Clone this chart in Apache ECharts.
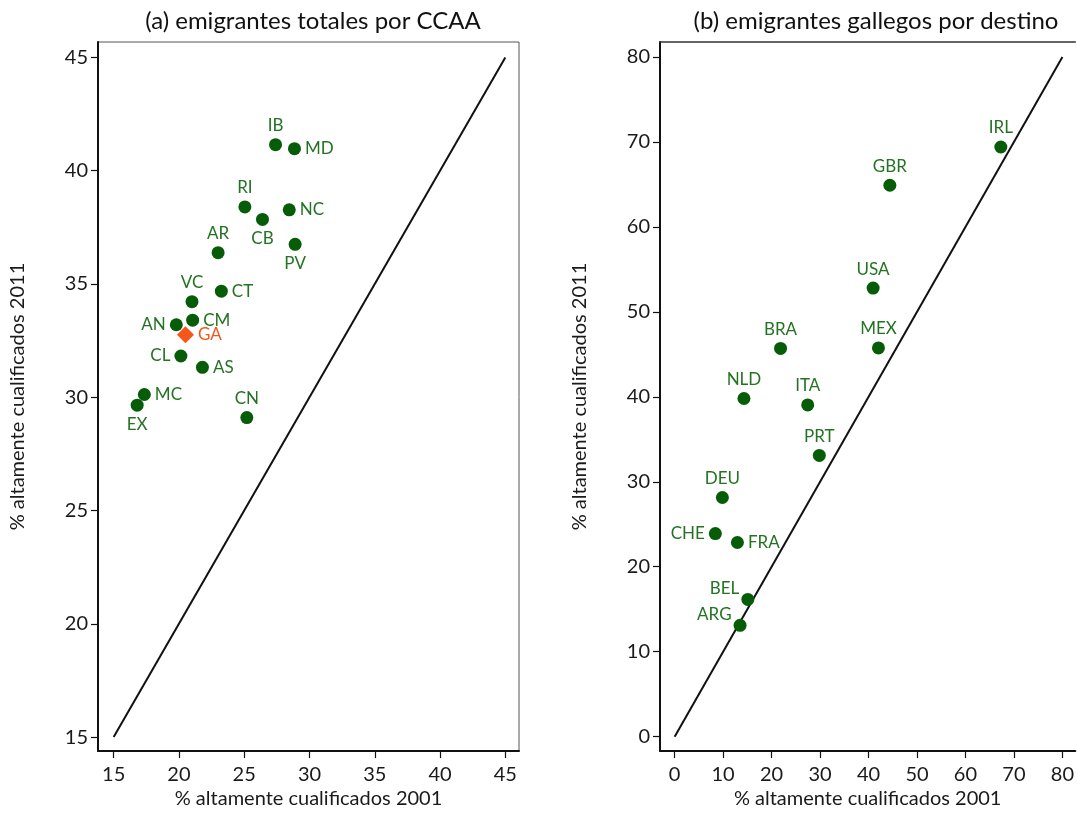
<!DOCTYPE html>
<html>
<head>
<meta charset="utf-8">
<script src="https://cdn.jsdelivr.net/npm/echarts@6/dist/echarts.min.js"></script>
<style>
html,body{margin:0;padding:0;background:#fff;}
#chart{width:1077px;height:814px;}
</style>
</head>
<body>
<div id="chart"></div>
<script>
// ---- Data: panel (a) emigrantes totales por CCAA ----
const ccaaCodes = ['IB','MD','RI','CB','NC','AR','PV','CT','VC','CM','AN','GA','CL','AS','MC','EX','CN'];
const ccaa2001  = [27.4, 28.85, 25.05, 26.4, 28.45, 23.0, 28.9, 23.25, 21.0, 21.05, 19.8, 20.5, 20.15, 21.8, 17.35, 16.8, 25.2];
const ccaa2011  = [41.15, 40.97, 38.4, 37.85, 38.27, 36.38, 36.75, 34.68, 34.22, 33.4, 33.2, 32.76, 31.82, 31.32, 30.12, 29.65, 29.1];
const highlight = 'GA';
const ticksA = [15, 20, 25, 30, 35, 40, 45];
const diagA = [15, 45];

// ---- Data: panel (b) emigrantes gallegos por destino ----
const destCodes = ['IRL','GBR','USA','BRA','MEX','NLD','ITA','PRT','DEU','CHE','FRA','BEL','ARG'];
const dest2001  = [67.3, 44.4, 40.95, 21.85, 42.05, 14.3, 27.45, 29.85, 9.85, 8.4, 12.95, 15.1, 13.5];
const dest2011  = [69.4, 64.9, 52.8, 45.7, 45.75, 39.8, 39.05, 33.1, 28.15, 23.9, 22.85, 16.15, 13.1];
const ticksB = [0, 10, 20, 30, 40, 50, 60, 70, 80];
const diagB = [0, 80];

const titleA = '(a) emigrantes totales por CCAA';
const titleB = '(b) emigrantes gallegos por destino';
const xName = '% altamente cualificados 2001';
const yName = '% altamente cualificados 2011';

// ---- Style: label placement per code ----
const labelPlace = {
  IB:'top', MD:'right', RI:'top', CB:'bottom', NC:'right', AR:'top', PV:'bottom', CT:'right',
  VC:'top', CM:'right', AN:'left', GA:'right', CL:'left', AS:'right', MC:'right', EX:'bottom', CN:'top',
  IRL:'top', GBR:'top', USA:'top', BRA:'top', MEX:'top', NLD:'top', ITA:'top', PRT:'top', DEU:'top',
  CHE:'left', FRA:'right', BEL:'lefttop', ARG:'lefttop'
};

const FONT = 'Lato, "Open Sans", sans-serif';
const GREEN = '#075c07';
const LGREEN = '#237323';
const ORANGE = '#f5561a';

function labelCfg(code, color) {
  const p = labelPlace[code] || 'top';
  const base = {show: true, formatter: code, color: color, fontSize: 17, fontFamily: FONT, distance: 4};
  if (p === 'lefttop') return Object.assign(base, {position: 'left', offset: [0, -11], distance: 2});
  return Object.assign(base, {position: p});
}

function pts(codes, xs, ys, keep) {
  const out = [];
  codes.forEach((c, i) => {
    if (!keep(c)) return;
    out.push({value: [xs[i], ys[i]], name: c, label: labelCfg(c, c === highlight ? ORANGE : LGREEN)});
  });
  return out;
}

const chart = echarts.init(document.getElementById('chart'), null, {renderer: 'canvas'});

function xAxisCfg(idx, min, max, ticks) {
  return {
    type: 'value', gridIndex: idx, min: min, max: max,
    name: xName, nameLocation: 'middle', nameGap: 36,
    nameTextStyle: {fontSize: 20, fontFamily: FONT, color: '#1a1a1a'},
    splitLine: {show: false},
    axisLine: {show: true, onZero: false, lineStyle: {color: '#111', width: 2}},
    axisTick: {show: true, length: 7, customValues: ticks, lineStyle: {color: '#111', width: 1.2}},
    axisLabel: {customValues: ticks, fontSize: 20, fontFamily: FONT, color: '#1a1a1a', margin: 13}
  };
}
function yAxisCfg(idx, min, max, ticks) {
  return {
    type: 'value', gridIndex: idx, min: min, max: max,
    name: yName, nameLocation: 'middle', nameGap: 70,
    nameTextStyle: {fontSize: 20, fontFamily: FONT, color: '#1a1a1a'},
    splitLine: {show: false},
    axisLine: {show: true, onZero: false, lineStyle: {color: '#111', width: 2}},
    axisTick: {show: true, length: 7, customValues: ticks, lineStyle: {color: '#111', width: 1.2}},
    axisLabel: {customValues: ticks, fontSize: 20, fontFamily: FONT, color: '#1a1a1a', margin: 10}
  };
}

const option = {
  backgroundColor: '#fff',
  animation: false,
  title: [
    {text: titleA, left: 308, top: 4, textAlign: 'center',
     textStyle: {fontSize: 24, fontWeight: 'normal', fontFamily: FONT, color: '#111'}},
    {text: titleB, left: 871, top: 4, textAlign: 'center',
     textStyle: {fontSize: 24, fontWeight: 'normal', fontFamily: FONT, color: '#111'}}
  ],
  grid: [
    {left: 98, top: 42, width: 421, height: 710, show: true, borderColor: '#555', borderWidth: 1, containLabel: false},
    {left: 660, top: 42, right: 0, height: 710, show: false, containLabel: false}
  ],
  xAxis: [
    xAxisCfg(0, 13.8, 46.05, ticksA),
    xAxisCfg(1, -3.02, 82.67, ticksB),
    {type: 'value', gridIndex: 1, position: 'top', min: -3.02, max: 82.67,
     axisLine: {show: true, onZero: false, lineStyle: {color: '#333', width: 1.5}},
     axisTick: {show: false}, axisLabel: {show: false}, splitLine: {show: false}}
  ],
  yAxis: [
    yAxisCfg(0, 14.38, 45.68, ticksA),
    yAxisCfg(1, -1.7, 81.76, ticksB)
  ],
  series: [
    {type: 'line', xAxisIndex: 0, yAxisIndex: 0, data: [[diagA[0], diagA[0]], [diagA[1], diagA[1]]],
     symbol: 'none', lineStyle: {color: '#111', width: 2}, silent: true, z: 1},
    {type: 'line', xAxisIndex: 1, yAxisIndex: 1, data: [[diagB[0], diagB[0]], [diagB[1], diagB[1]]],
     symbol: 'none', lineStyle: {color: '#111', width: 2}, silent: true, z: 1},
    {type: 'scatter', xAxisIndex: 0, yAxisIndex: 0, symbol: 'circle', symbolSize: 13,
     itemStyle: {color: GREEN, opacity: 1}, data: pts(ccaaCodes, ccaa2001, ccaa2011, c => c !== highlight), z: 3},
    {type: 'scatter', xAxisIndex: 0, yAxisIndex: 0, symbol: 'diamond', symbolSize: [17, 17],
     itemStyle: {color: ORANGE, opacity: 1}, data: pts(ccaaCodes, ccaa2001, ccaa2011, c => c === highlight), z: 4},
    {type: 'scatter', xAxisIndex: 1, yAxisIndex: 1, symbol: 'circle', symbolSize: 13,
     itemStyle: {color: GREEN, opacity: 1}, data: pts(destCodes, dest2001, dest2011, () => true), z: 3}
  ]
};
chart.setOption(option);
</script>
</body>
</html>
